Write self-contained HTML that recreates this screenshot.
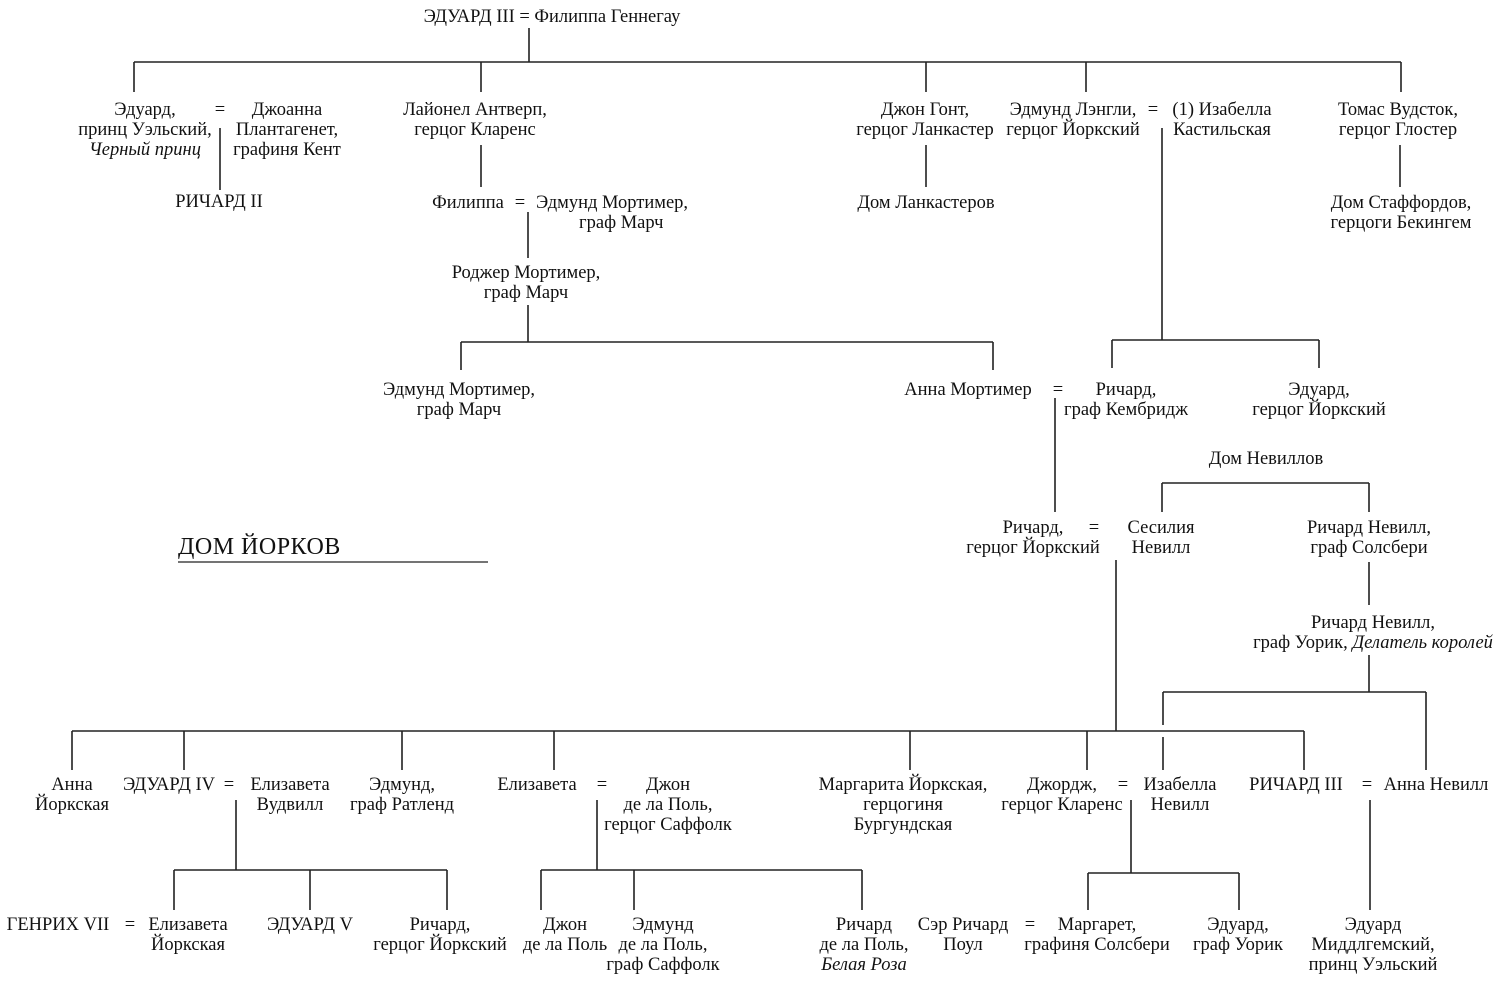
<!DOCTYPE html>
<html><head><meta charset="utf-8"><style>
body{margin:0;background:#fff;}
#c{position:relative;width:1500px;height:983px;overflow:hidden;font-family:"Liberation Serif","DejaVu Serif",serif;font-size:18.5px;line-height:20px;color:#111;}
.t{position:absolute;white-space:nowrap;text-align:center;transform:translateX(-50%);}
i{font-style:italic;}
svg{position:absolute;left:0;top:0;}
</style></head><body><div id="c">
<svg width="1500" height="983" stroke="#222" stroke-width="1.6" fill="none">
<path d="M529 28V62M134 62H1401M134 62V92M481 62V92M926 62V92M1086 62V92M1401 62V92"/>
<path d="M220 128V190M481 145V187M528 212V258M528 305V342M461 342H993M461 342V370M993 342V370"/>
<path d="M1162 128V340M1112 340H1319M1112 340V368M1319 340V368M926 145V187M1400 145V187"/>
<path d="M1055 398V512M1162 483H1369M1162 483V512M1369 483V512M1369 562V605M1369 655V692M1163 692H1426M1163 692V725M1163 737V770M1426 692V770"/>
<path d="M1116 560V731M72 731H1304M72 731V770M184 731V770M402 731V770M554 731V770M910 731V770M1087 731V770M1304 731V770"/>
<path d="M236 800V870M174 870H447M174 870V910M310 870V910M447 870V910"/>
<path d="M597 800V870M541 870H862M541 870V910M634 870V910M862 870V910"/>
<path d="M1131 800V873M1088 873H1239M1088 873V910M1239 873V910M1370 800V910"/>
<path d="M178 562H488" stroke-width="1.3"/>
</svg>
<div class="t" style="left:552px;top:7px">ЭДУАРД III = Филиппа Геннегау</div>
<div class="t" style="left:145px;top:100px">Эдуард,<br>принц Уэльский,<br><i>Черный принц</i></div>
<div class="t" style="left:220px;top:100px">=</div>
<div class="t" style="left:287px;top:100px">Джоанна<br>Плантагенет,<br>графиня Кент</div>
<div class="t" style="left:219px;top:192px">РИЧАРД II</div>
<div class="t" style="left:475px;top:100px">Лайонел Антверп,<br>герцог Кларенс</div>
<div class="t" style="left:468px;top:193px">Филиппа</div>
<div class="t" style="left:520px;top:193px">=</div>
<div class="t" style="left:612px;top:193px">Эдмунд Мортимер,<br>&nbsp;&nbsp;&nbsp;&nbsp;граф Марч</div>
<div class="t" style="left:526px;top:263px">Роджер Мортимер,<br>граф Марч</div>
<div class="t" style="left:925px;top:100px">Джон Гонт,<br>герцог Ланкастер</div>
<div class="t" style="left:1073px;top:100px">Эдмунд Лэнгли,<br>герцог Йоркский</div>
<div class="t" style="left:1153px;top:100px">=</div>
<div class="t" style="left:1222px;top:100px">(1) Изабелла<br>Кастильская</div>
<div class="t" style="left:1398px;top:100px">Томас Вудсток,<br>герцог Глостер</div>
<div class="t" style="left:926px;top:193px">Дом Ланкастеров</div>
<div class="t" style="left:1401px;top:193px">Дом Стаффордов,<br>герцоги Бекингем</div>
<div class="t" style="left:459px;top:380px">Эдмунд Мортимер,<br>граф Марч</div>
<div class="t" style="left:968px;top:380px">Анна Мортимер</div>
<div class="t" style="left:1058px;top:380px">=</div>
<div class="t" style="left:1126px;top:380px">Ричард,<br>граф Кембридж</div>
<div class="t" style="left:1319px;top:380px">Эдуард,<br>герцог Йоркский</div>
<div class="t" style="left:1266px;top:449px">Дом Невиллов</div>
<div class="t" style="left:1033px;top:518px">Ричард,<br>герцог Йоркский</div>
<div class="t" style="left:1094px;top:518px">=</div>
<div class="t" style="left:1161px;top:518px">Сесилия<br>Невилл</div>
<div class="t" style="left:1369px;top:518px">Ричард Невилл,<br>граф Солсбери</div>
<div class="t" style="left:1373px;top:613px">Ричард Невилл,<br>граф Уорик, <i>Делатель королей</i></div>
<div style="position:absolute;left:178px;top:533px;font-size:24px;line-height:28px;letter-spacing:0.5px">ДОМ ЙОРКОВ</div>
<div class="t" style="left:72px;top:775px">Анна<br>Йоркская</div>
<div class="t" style="left:169px;top:775px">ЭДУАРД IV</div>
<div class="t" style="left:229px;top:775px">=</div>
<div class="t" style="left:290px;top:775px">Елизавета<br>Вудвилл</div>
<div class="t" style="left:402px;top:775px">Эдмунд,<br>граф Ратленд</div>
<div class="t" style="left:537px;top:775px">Елизавета</div>
<div class="t" style="left:602px;top:775px">=</div>
<div class="t" style="left:668px;top:775px">Джон<br>де ла Поль,<br>герцог Саффолк</div>
<div class="t" style="left:903px;top:775px">Маргарита Йоркская,<br>герцогиня<br>Бургундская</div>
<div class="t" style="left:1062px;top:775px">Джордж,<br>герцог Кларенс</div>
<div class="t" style="left:1123px;top:775px">=</div>
<div class="t" style="left:1180px;top:775px">Изабелла<br>Невилл</div>
<div class="t" style="left:1296px;top:775px">РИЧАРД III</div>
<div class="t" style="left:1367px;top:775px">=</div>
<div class="t" style="left:1436px;top:775px">Анна Невилл</div>
<div class="t" style="left:58px;top:915px">ГЕНРИХ VII</div>
<div class="t" style="left:130px;top:915px">=</div>
<div class="t" style="left:188px;top:915px">Елизавета<br>Йоркская</div>
<div class="t" style="left:310px;top:915px">ЭДУАРД V</div>
<div class="t" style="left:440px;top:915px">Ричард,<br>герцог Йоркский</div>
<div class="t" style="left:565px;top:915px">Джон<br>де ла Поль</div>
<div class="t" style="left:663px;top:915px">Эдмунд<br>де ла Поль,<br>граф Саффолк</div>
<div class="t" style="left:864px;top:915px">Ричард<br>де ла Поль,<br><i>Белая Роза</i></div>
<div class="t" style="left:963px;top:915px">Сэр Ричард<br>Поул</div>
<div class="t" style="left:1030px;top:915px">=</div>
<div class="t" style="left:1097px;top:915px">Маргарет,<br>графиня Солсбери</div>
<div class="t" style="left:1238px;top:915px">Эдуард,<br>граф Уорик</div>
<div class="t" style="left:1373px;top:915px">Эдуард<br>Миддлгемский,<br>принц Уэльский</div>
</div></body></html>
